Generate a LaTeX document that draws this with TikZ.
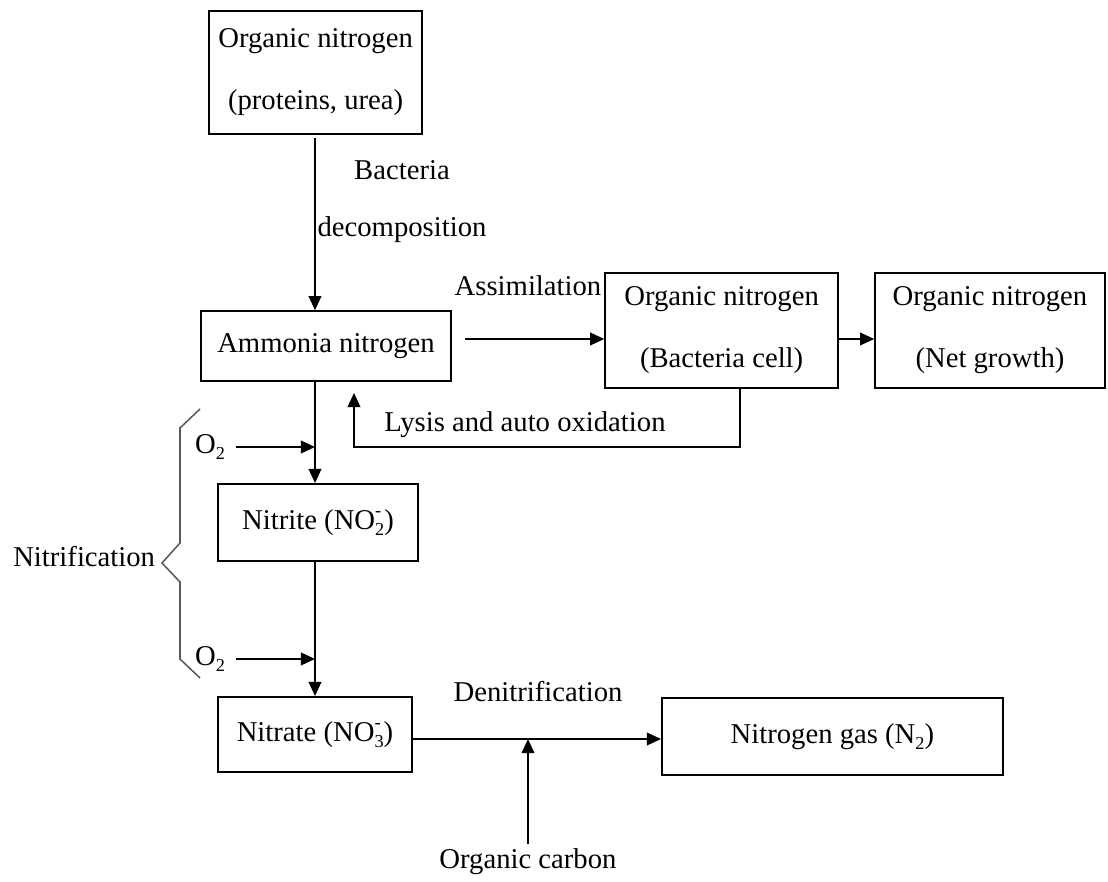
\documentclass[tikz,border=0pt]{standalone}
\usepackage{fontspec}
\setmainfont{Liberation Serif}
\usetikzlibrary{arrows.meta, positioning, calc}

\newcommand{\lowidx}[1]{\raisebox{-0.45ex}{\fontsize{13}{13}\selectfont #1}}
\newcommand{\ionidx}[1]{\rlap{\raisebox{0.95ex}{\fontsize{13}{13}\selectfont -}}\lowidx{#1}}

\begin{document}
\begin{tikzpicture}[
    box/.style={draw, line width=1.1pt, align=center},
    arr/.style={-{Triangle[length=10pt, width=9pt]}, line width=1.1pt},
    font=\fontsize{20.4}{44}\selectfont
]
\useasboundingbox (0,0) rectangle (27.7, 22.05);

% ---- Boxes ----
\node[box, minimum width=5.33cm, minimum height=3.08cm] (orgN)    at (7.89, 20.24)  {Organic nitrogen\\(proteins, urea)};
\node[box, minimum width=6.25cm, minimum height=1.75cm] (ammonia) at (8.15, 13.4)   {Ammonia nitrogen};
\node[box, minimum width=5.83cm, minimum height=2.88cm] (cell)    at (18.04, 13.79) {Organic nitrogen\\(Bacteria cell)};
\node[box, minimum width=5.75cm, minimum height=2.88cm] (growth)  at (24.75, 13.79) {Organic nitrogen\\(Net growth)};
\node[box, minimum width=5.0cm,  minimum height=1.93cm] (nitrite) at (7.95, 8.99)   {Nitrite (NO\ionidx{2})};
\node[box, minimum width=4.85cm, minimum height=1.88cm] (nitrate) at (7.875, 3.69)  {Nitrate (NO\ionidx{3})};
\node[box, minimum width=8.53cm, minimum height=1.93cm] (gas)     at (20.81, 3.64)  {Nitrogen gas (N\lowidx{2})};

% ---- Main trunk ----
\coordinate (trunk) at (7.875, 0);
\draw[arr] ([yshift=-0.08cm]orgN.south -| trunk) -- (ammonia.north -| trunk);
\draw[arr] (ammonia.south -| trunk) -- (nitrite.north -| trunk);
\draw[arr] (nitrite.south -| trunk) -- (nitrate.north -| trunk);
\node (bact)   at (10.05, 17.8) {Bacteria};
\node (decomp) at (10.05, 16.3) {decomposition};

% ---- Assimilation ----
\coordinate (assim) at (11.625, 13.575);
\draw[arr] (assim) -- (assim -| cell.west);
\node (assimL) at (13.2, 14.9) {Assimilation};
\draw[arr] (cell.east |- assim) -- (growth.west |- assim);

% ---- Lysis back to ammonia ----
\coordinate (lysis) at (8.85, 10.875);
\draw[arr] ([xshift=0.46cm]cell.south) |- (lysis) -- ++(0, 1.35);
\node (lysisL) at (13.125, 11.425) {Lysis and auto oxidation};

% ---- Oxygen inputs ----
\node (oxyA) at (5.25, 10.875) {O\lowidx{2}};
\draw[arr] ([xshift=0.15cm]oxyA.east) -- (oxyA -| trunk);
\node (oxyB) at (5.25, 5.575) {O\lowidx{2}};
\draw[arr] ([xshift=0.15cm]oxyB.east) -- (oxyB -| trunk);

% ---- Nitrification brace ----
\draw[gray!70!black, line width=1.1pt]
    (5.0, 11.825) -- (4.5, 11.35) -- (4.5, 8.475) -- (4.05, 7.975)
    -- (4.5, 7.5) -- (4.5, 5.575) -- (5.0, 5.1);
\node[anchor=east] (nitrif) at (4.0, 8.125) {Nitrification};

% ---- Denitrification ----
\coordinate (denit) at (0, 3.575);
\draw[arr] (nitrate.east |- denit) -- (gas.west |- denit);
\node (denitL) at (13.45, 4.75) {Denitrification};
\node (carbon) at (13.2, 0.5) {Organic carbon};
\draw[arr] (carbon.north) -- (carbon |- denit);

\end{tikzpicture}
\end{document}
